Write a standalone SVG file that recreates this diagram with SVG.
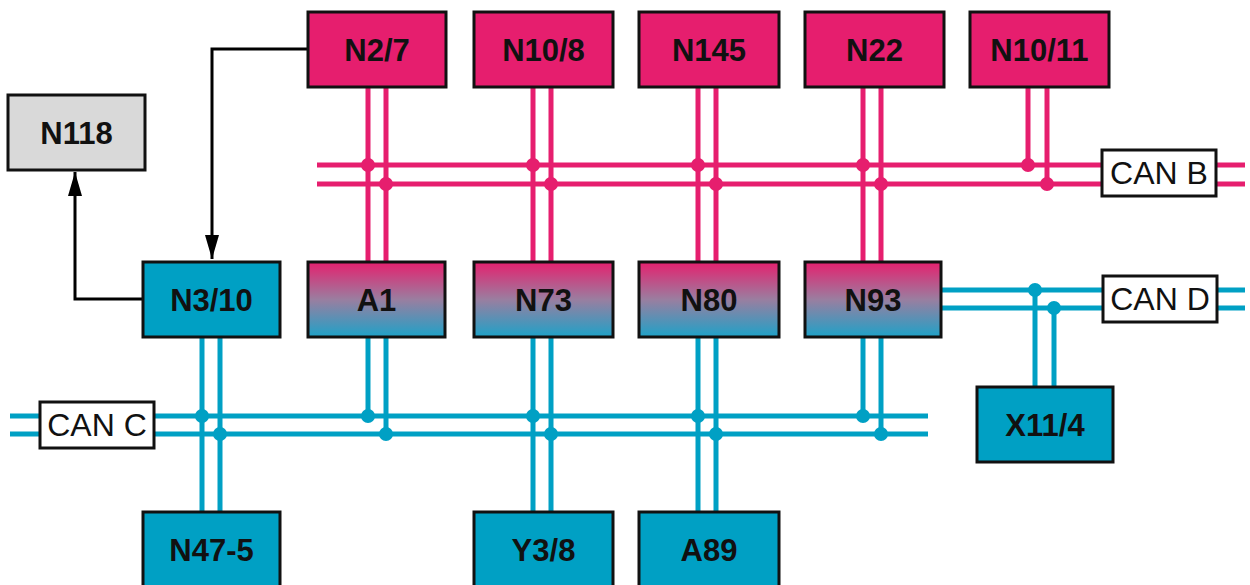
<svg xmlns="http://www.w3.org/2000/svg" width="1250" height="585" viewBox="0 0 1250 585">
<defs>
<linearGradient id="grad" x1="0" y1="0" x2="0" y2="1">
<stop offset="0" stop-color="#e5206e"/>
<stop offset="0.5" stop-color="#9a7ea0"/>
<stop offset="1" stop-color="#1ea2c8"/>
</linearGradient>
<marker id="arr" viewBox="0 0 24 14" refX="24" refY="7" markerWidth="24" markerHeight="14" markerUnits="userSpaceOnUse" orient="auto">
<path d="M0,0 L24,7 L0,14 Z" fill="#000"/>
</marker>
</defs>
<style>
.box{stroke:#111;stroke-width:3}
.pink{fill:#e61e6e}
.cyan{fill:#00a0c4}
.grey{fill:#d9d9d9}
.gr{fill:url(#grad)}
.lbl{fill:#fff}
.t{font-family:"Liberation Sans",Arial,sans-serif;font-weight:bold;font-size:31px;text-anchor:middle;fill:#111}
.tl{font-family:"Liberation Sans",Arial,sans-serif;font-size:32px;text-anchor:middle;fill:#111}
.pl{stroke:#e61e6e;stroke-width:5;fill:none}
.cl{stroke:#00a0c4;stroke-width:5;fill:none}
.pd{fill:#e61e6e}
.cd{fill:#00a0c4}
.arrow{stroke:#000;stroke-width:3;fill:none}
</style>
<g id="connectors">
<line class="pl" x1="317" y1="165" x2="1245" y2="165"/>
<line class="pl" x1="317" y1="184" x2="1245" y2="184"/>
<line class="pl" x1="368" y1="87" x2="368" y2="262"/>
<line class="pl" x1="386" y1="87" x2="386" y2="262"/>
<line class="pl" x1="533" y1="87" x2="533" y2="262"/>
<line class="pl" x1="551" y1="87" x2="551" y2="262"/>
<line class="pl" x1="698" y1="87" x2="698" y2="262"/>
<line class="pl" x1="716" y1="87" x2="716" y2="262"/>
<line class="pl" x1="863" y1="87" x2="863" y2="262"/>
<line class="pl" x1="881" y1="87" x2="881" y2="262"/>
<line class="pl" x1="1028" y1="87" x2="1028" y2="165"/>
<line class="pl" x1="1047" y1="87" x2="1047" y2="184"/>
<circle class="pd" cx="368" cy="165" r="7"/>
<circle class="pd" cx="386" cy="184" r="7"/>
<circle class="pd" cx="533" cy="165" r="7"/>
<circle class="pd" cx="551" cy="184" r="7"/>
<circle class="pd" cx="698" cy="165" r="7"/>
<circle class="pd" cx="716" cy="184" r="7"/>
<circle class="pd" cx="863" cy="165" r="7"/>
<circle class="pd" cx="881" cy="184" r="7"/>
<circle class="pd" cx="1028" cy="165" r="7"/>
<circle class="pd" cx="1047" cy="184" r="7"/>
<line class="cl" x1="10" y1="416" x2="928" y2="416"/>
<line class="cl" x1="10" y1="434" x2="928" y2="434"/>
<line class="cl" x1="202" y1="337" x2="202" y2="512"/>
<line class="cl" x1="220" y1="337" x2="220" y2="512"/>
<line class="cl" x1="368" y1="337" x2="368" y2="416"/>
<line class="cl" x1="386" y1="337" x2="386" y2="434"/>
<line class="cl" x1="533" y1="337" x2="533" y2="512"/>
<line class="cl" x1="551" y1="337" x2="551" y2="512"/>
<line class="cl" x1="698" y1="337" x2="698" y2="512"/>
<line class="cl" x1="716" y1="337" x2="716" y2="512"/>
<line class="cl" x1="863" y1="337" x2="863" y2="416"/>
<line class="cl" x1="881" y1="337" x2="881" y2="434"/>
<circle class="cd" cx="202" cy="416" r="7"/>
<circle class="cd" cx="220" cy="434" r="7"/>
<circle class="cd" cx="368" cy="416" r="7"/>
<circle class="cd" cx="386" cy="434" r="7"/>
<circle class="cd" cx="533" cy="416" r="7"/>
<circle class="cd" cx="551" cy="434" r="7"/>
<circle class="cd" cx="698" cy="416" r="7"/>
<circle class="cd" cx="716" cy="434" r="7"/>
<circle class="cd" cx="863" cy="416" r="7"/>
<circle class="cd" cx="881" cy="434" r="7"/>
<line class="cl" x1="941" y1="290" x2="1245" y2="290"/>
<line class="cl" x1="941" y1="308" x2="1245" y2="308"/>
<line class="cl" x1="1035" y1="290" x2="1035" y2="387"/>
<line class="cl" x1="1054" y1="308" x2="1054" y2="387"/>
<circle class="cd" cx="1035" cy="290" r="7"/>
<circle class="cd" cx="1054" cy="308" r="7"/>
<polyline class="arrow" points="307,49 212,49 212,259" marker-end="url(#arr)"/>
<polyline class="arrow" points="143,299 75,299 75,172" marker-end="url(#arr)"/>
</g>
<g id="CAN_B"><rect class="box lbl" x="1102" y="150" width="114" height="46"/><text class="tl" x="1159" y="184">CAN B</text></g>
<g id="CAN_C"><rect class="box lbl" x="40" y="402" width="114" height="46"/><text class="tl" x="97" y="436">CAN C</text></g>
<g id="CAN_D"><rect class="box lbl" x="1103" y="276" width="114" height="46"/><text class="tl" x="1160" y="310">CAN D</text></g>
<g id="N118"><rect class="box grey" x="8" y="95" width="137" height="75"/><text class="t" x="76.5" y="144">N118</text></g>
<g id="N2_7"><rect class="box pink" x="308" y="12" width="138" height="75"/><text class="t" x="377" y="61">N2/7</text></g>
<g id="N10_8"><rect class="box pink" x="474" y="12" width="139" height="75"/><text class="t" x="543.5" y="61">N10/8</text></g>
<g id="N145"><rect class="box pink" x="639" y="12" width="140" height="75"/><text class="t" x="709" y="61">N145</text></g>
<g id="N22"><rect class="box pink" x="805" y="12" width="139" height="75"/><text class="t" x="874.5" y="61">N22</text></g>
<g id="N10_11"><rect class="box pink" x="970" y="12" width="139" height="75"/><text class="t" x="1039.5" y="61">N10/11</text></g>
<g id="N3_10"><rect class="box cyan" x="143" y="262" width="137" height="75"/><text class="t" x="211.5" y="311">N3/10</text></g>
<g id="A1"><rect class="box gr" x="308" y="262" width="137" height="75"/><text class="t" x="376.5" y="311">A1</text></g>
<g id="N73"><rect class="box gr" x="474" y="262" width="139" height="75"/><text class="t" x="543.5" y="311">N73</text></g>
<g id="N80"><rect class="box gr" x="639" y="262" width="140" height="75"/><text class="t" x="709" y="311">N80</text></g>
<g id="N93"><rect class="box gr" x="805" y="262" width="136" height="75"/><text class="t" x="873" y="311">N93</text></g>
<g id="X11_4"><rect class="box cyan" x="977" y="387" width="136" height="75"/><text class="t" x="1045" y="436">X11/4</text></g>
<g id="N47_5"><rect class="box cyan" x="143" y="512" width="137" height="75"/><text class="t" x="211.5" y="561">N47-5</text></g>
<g id="Y3_8"><rect class="box cyan" x="474" y="512" width="139" height="75"/><text class="t" x="543.5" y="561">Y3/8</text></g>
<g id="A89"><rect class="box cyan" x="639" y="512" width="140" height="75"/><text class="t" x="709" y="561">A89</text></g>
</svg>
